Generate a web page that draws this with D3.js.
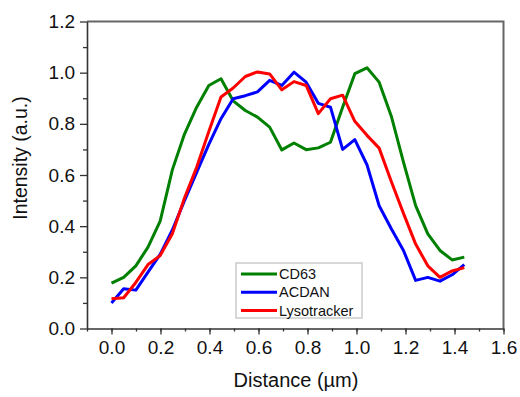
<!DOCTYPE html>
<html>
<head>
<meta charset="utf-8">
<script src="https://cdn.jsdelivr.net/npm/d3@7"></script>
<style>
  body { margin: 0; background: #fff; }
  svg text { font-family: "Liberation Sans", Arial, sans-serif; fill: #111; }
</style>
</head>
<body>
<svg id="chart" width="520" height="397"></svg>
<script>
// profile sampled at 30 points from 0 to 1.44 um
var step = 1.44 / 29;
var distance = d3.range(30).map(function(i) { return i * step; });

var cd63 = [0.177, 0.20, 0.245, 0.318, 0.42, 0.62, 0.76, 0.865, 0.95, 0.976,
            0.89, 0.852, 0.826, 0.787, 0.698, 0.725, 0.699, 0.706, 0.728, 0.865,
            0.996, 1.019, 0.963, 0.83, 0.65, 0.48, 0.37, 0.305, 0.268, 0.279];
var acdan = [0.10, 0.155, 0.15, 0.22, 0.29, 0.385, 0.50, 0.61, 0.72, 0.82,
             0.898, 0.91, 0.925, 0.97, 0.95, 1.002, 0.963, 0.88, 0.865, 0.70,
             0.738, 0.64, 0.48, 0.39, 0.305, 0.188, 0.20, 0.185, 0.21, 0.25];
var lyso = [0.116, 0.12, 0.18, 0.25, 0.285, 0.37, 0.51, 0.63, 0.77, 0.905,
            0.94, 0.985, 1.003, 0.995, 0.933, 0.965, 0.95, 0.84, 0.898, 0.912,
            0.81, 0.755, 0.705, 0.575, 0.45, 0.33, 0.245, 0.20, 0.225, 0.238];

var seriesNames = ["CD63", "ACDAN", "Lysotracker"];
var seriesColors = ["#008000", "#0000ff", "#ff0000"];
var seriesValues = [cd63, acdan, lyso];

var xTicks = [0, 0.2, 0.4, 0.6, 0.8, 1.0, 1.2, 1.4, 1.6];
var yTicks = [0, 0.2, 0.4, 0.6, 0.8, 1.0, 1.2];

var svg = d3.select("#chart");
var pLeft = 87, pRight = 503.5, pTop = 21.5, pBottom = 328.5;

var x = d3.scaleLinear().domain([-0.1, 1.6]).range([pLeft, pRight]);
var y = d3.scaleLinear().domain([0, 1.2]).range([pBottom, pTop]);

/* frame: top and right */
svg.append("path")
  .attr("d", "M" + pLeft + "," + pTop + "H" + pRight + "V" + pBottom)
  .attr("fill", "none").attr("stroke", "#666").attr("stroke-width", 2);

/* minor ticks */
var xMinor = d3.range(-0.1, 1.65, 0.1);
var yMinor = d3.range(0.1, 1.2, 0.2);
svg.append("g").attr("transform", "translate(0," + pBottom + ")")
  .call(d3.axisBottom(x).tickValues(xMinor).tickSize(3).tickSizeOuter(0).tickFormat(""))
  .call(function(g) { g.select(".domain").remove(); g.selectAll("line").attr("stroke", "#333").attr("stroke-width", 1.3); });
svg.append("g").attr("transform", "translate(" + pLeft + ",0)")
  .call(d3.axisLeft(y).tickValues(yMinor).tickSize(4).tickSizeOuter(0).tickFormat(""))
  .call(function(g) { g.select(".domain").remove(); g.selectAll("line").attr("stroke", "#333").attr("stroke-width", 1.3); });

/* major axes */
var xAxis = svg.append("g").attr("transform", "translate(0," + pBottom + ")")
  .call(d3.axisBottom(x).tickValues(xTicks).tickSize(6).tickPadding(6.5).tickSizeOuter(0).tickFormat(d3.format(".1f")));
var yAxis = svg.append("g").attr("transform", "translate(" + pLeft + ",0)")
  .call(d3.axisLeft(y).tickValues(yTicks).tickSize(7).tickPadding(5).tickSizeOuter(0).tickFormat(d3.format(".1f")));

[xAxis, yAxis].forEach(function(g) {
  g.attr("font-size", 19).attr("font-family", "Liberation Sans, Arial, sans-serif");
  g.select(".domain").attr("stroke", "#333").attr("stroke-width", 1.6);
  g.selectAll("line").attr("stroke", "#333").attr("stroke-width", 1.3);
  g.selectAll("text").attr("fill", "#111");
});

/* axis titles */
svg.append("text").attr("x", 296).attr("y", 387).attr("text-anchor", "middle")
  .attr("font-size", 20).text("Distance (\u00b5m)");
svg.append("text").attr("transform", "translate(27,158) rotate(-90)")
  .attr("text-anchor", "middle").attr("font-size", 19.5).text("Intensity (a.u.)");

/* lines */
var line = d3.line()
  .x(function(d, i) { return x(distance[i]); })
  .y(function(d) { return y(d); });

svg.selectAll("path.series").data(seriesValues).enter().append("path")
  .attr("class", "series")
  .attr("d", line)
  .attr("fill", "none")
  .attr("stroke", function(d, i) { return seriesColors[i]; })
  .attr("stroke-width", 3)
  .attr("stroke-linejoin", "round");

/* legend */
var legend = svg.append("g");
legend.append("rect").attr("x", 236).attr("y", 263).attr("width", 126).attr("height", 55)
  .attr("fill", "#fff").attr("stroke", "#ccc").attr("stroke-width", 1.5);
var rows = legend.selectAll("g.row").data(seriesNames).enter().append("g")
  .attr("class", "row")
  .attr("transform", function(d, i) { return "translate(0," + (274 + i * 18.3) + ")"; });
rows.append("line").attr("x1", 241).attr("x2", 277).attr("y1", 0).attr("y2", 0)
  .attr("stroke", function(d, i) { return seriesColors[i]; }).attr("stroke-width", 3);
rows.append("text").attr("x", 279).attr("y", 5).attr("font-size", 14.5).text(function(d) { return d; });
</script>
</body>
</html>
